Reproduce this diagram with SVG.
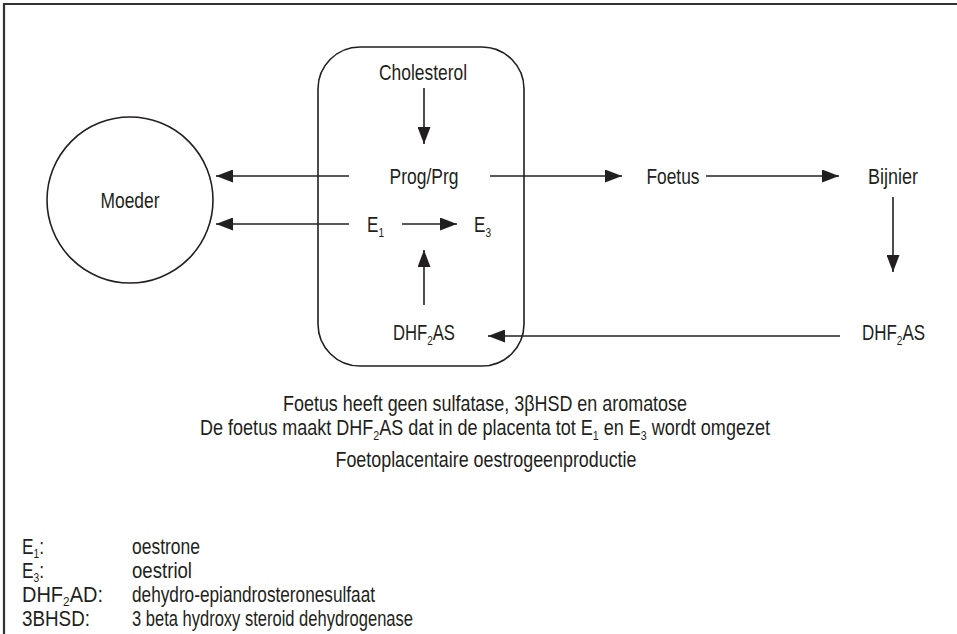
<svg xmlns="http://www.w3.org/2000/svg" width="957" height="634" viewBox="0 0 957 634">
<defs>
<marker id="ah" viewBox="0 0 17 13" refX="17" refY="6.5" markerWidth="17" markerHeight="13" markerUnits="userSpaceOnUse" orient="auto">
<path d="M0,0 L17,6.5 L0,13 Z" fill="#231f20"/>
</marker>
</defs>
<style>
text{font-family:"Liberation Sans Narrow","Liberation Sans",Arial,sans-serif;font-size:22px;fill:#231f20}
.c{text-anchor:middle}
.s{font-size:13px}
.edge{stroke:#231f20;stroke-width:1.6;fill:none;marker-end:url(#ah)}
.shape{stroke:#231f20;stroke-width:1.6;fill:none}
</style>
<rect width="957" height="634" fill="#fff"/>
<path d="M4,634 L4,4 L957,4" stroke="#333" stroke-width="2.2" fill="none"/>
<g id="moeder">
<circle class="shape" cx="130" cy="200" r="83"/>
<text class="c" x="130" y="208" textLength="59" lengthAdjust="spacingAndGlyphs">Moeder</text>
</g>
<g id="placenta">
<rect class="shape" x="318" y="47" width="206" height="319" rx="42" ry="42"/>
</g>
<g id="cholesterol"><text class="c" x="423" y="80" textLength="88" lengthAdjust="spacingAndGlyphs">Cholesterol</text></g>
<g id="prog"><text class="c" x="424" y="184" textLength="69" lengthAdjust="spacingAndGlyphs">Prog/Prg</text></g>
<g id="e1"><text x="367" y="232" textLength="17" lengthAdjust="spacingAndGlyphs">E<tspan class="s" dy="5">1</tspan></text></g>
<g id="e3"><text x="474" y="232" textLength="17" lengthAdjust="spacingAndGlyphs">E<tspan class="s" dy="5">3</tspan></text></g>
<g id="dhf-left"><text x="393" y="340" textLength="62" lengthAdjust="spacingAndGlyphs">DHF<tspan class="s" dy="5">2</tspan><tspan dy="-5">AS</tspan></text></g>
<g id="foetus"><text class="c" x="673" y="184" textLength="53" lengthAdjust="spacingAndGlyphs">Foetus</text></g>
<g id="bijnier"><text class="c" x="893" y="184" textLength="50" lengthAdjust="spacingAndGlyphs">Bijnier</text></g>
<g id="dhf-right"><text x="862" y="340" textLength="63" lengthAdjust="spacingAndGlyphs">DHF<tspan class="s" dy="5">2</tspan><tspan dy="-5">AS</tspan></text></g>
<g id="connectors">
<line class="edge" x1="424" y1="88" x2="424" y2="144"/>
<line class="edge" x1="349" y1="176" x2="216" y2="176"/>
<line class="edge" x1="349" y1="224" x2="216" y2="224"/>
<line class="edge" x1="402" y1="224" x2="457" y2="224"/>
<line class="edge" x1="424" y1="305" x2="424" y2="250"/>
<line class="edge" x1="490" y1="176" x2="622" y2="176"/>
<line class="edge" x1="706" y1="176" x2="839" y2="176"/>
<line class="edge" x1="893" y1="197" x2="893" y2="272"/>
<line class="edge" x1="840" y1="336" x2="488" y2="336"/>
</g>
<g id="notes">
<text class="c" x="485" y="411" textLength="404" lengthAdjust="spacingAndGlyphs">Foetus heeft geen sulfatase, 3βHSD en aromatose</text>
<text class="c" x="485" y="435" textLength="570" lengthAdjust="spacingAndGlyphs">De foetus maakt DHF<tspan class="s" dy="5">2</tspan><tspan dy="-5">AS dat in de placenta tot E</tspan><tspan class="s" dy="5">1</tspan><tspan dy="-5"> en E</tspan><tspan class="s" dy="5">3</tspan><tspan dy="-5"> wordt omgezet</tspan></text>
<text class="c" x="486" y="467" textLength="301" lengthAdjust="spacingAndGlyphs">Foetoplacentaire oestrogeenproductie</text>
</g>
<g id="legend">
<text x="22" y="554" textLength="22" lengthAdjust="spacingAndGlyphs">E<tspan class="s" dy="4">1</tspan><tspan dy="-4">:</tspan></text>
<text x="132" y="554" textLength="68" lengthAdjust="spacingAndGlyphs">oestrone</text>
<text x="22" y="578" textLength="22" lengthAdjust="spacingAndGlyphs">E<tspan class="s" dy="4">3</tspan><tspan dy="-4">:</tspan></text>
<text x="132" y="578" textLength="60" lengthAdjust="spacingAndGlyphs">oestriol</text>
<text x="22" y="602" textLength="81" lengthAdjust="spacingAndGlyphs">DHF<tspan class="s" dy="4">2</tspan><tspan dy="-4">AD:</tspan></text>
<text x="132" y="602" textLength="243" lengthAdjust="spacingAndGlyphs">dehydro-epiandrosteronesulfaat</text>
<text x="22" y="626" textLength="68" lengthAdjust="spacingAndGlyphs">3BHSD:</text>
<text x="132" y="626" textLength="281" lengthAdjust="spacingAndGlyphs">3 beta hydroxy steroid dehydrogenase</text>
</g>
</svg>
